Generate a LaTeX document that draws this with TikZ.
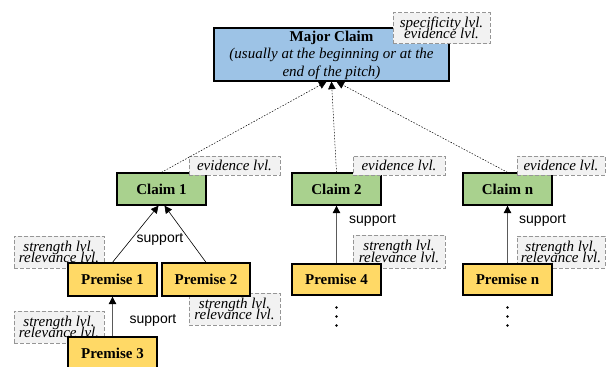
\documentclass[tikz,border=0pt]{standalone}
\usepackage{fontspec}
\setmainfont{Liberation Serif}
\newfontfamily\supfont{Liberation Sans}
\usetikzlibrary{arrows.meta}
\definecolor{mcblue}{RGB}{157,195,230}
\definecolor{claimgreen}{RGB}{169,209,142}
\definecolor{premyellow}{RGB}{255,217,102}
\definecolor{taggray}{RGB}{242,242,242}
\definecolor{tagline}{RGB}{150,150,150}
\definecolor{arrgray}{RGB}{90,90,90}
\newcommand\tagfont{\fontsize{15}{11.5}\selectfont\itshape\lineskiplimit=-20pt\relax}

\begin{document}
\begin{tikzpicture}[x=1pt, y=-1pt,
    box/.style={rectangle, draw=black, line width=1.3pt, inner sep=0pt,
      minimum width=89pt, minimum height=32pt, align=center,
      font=\fontsize{15}{17.5}\selectfont\bfseries},
    mcbox/.style={box, fill=mcblue, minimum width=235pt, minimum height=53pt,
      font=\fontsize{15}{17.5}\selectfont},
    claim/.style={box, fill=claimgreen},
    premise/.style={box, fill=premyellow, minimum height=33pt},
    tag/.style={rectangle, draw=tagline, line width=1pt, dash pattern=on 4pt off 2pt,
      fill=taggray, inner sep=0pt, minimum width=90pt, minimum height=32pt, align=center,
      font=\tagfont},
    sup/.style={font=\supfont\fontsize{14}{16}\selectfont, inner sep=0pt},
    arr/.style={-{Triangle[length=7.5pt, width=7.5pt, black]}, black, line width=0.6pt},
    grayarr/.style={arr, arrgray, line width=0.8pt},
    dotarr/.style={arr, dash pattern=on 1.5pt off 1.5pt, line width=0.5pt}]
  \useasboundingbox (0,0) rectangle (606,367);

  % premise tags (behind the boxes)
  \node[tag] (tp1) at (59,252) {strength lvl.\\relevance lvl.};
  \node[tag, minimum width=91pt] (tp2) at (234.5,309) {strength lvl.\\relevance lvl.};
  \node[tag] (tp3) at (59,327) {strength lvl.\\relevance lvl.};
  \node[tag, minimum width=92pt, minimum height=33pt] (tp4) at (399,251.5) {strength lvl.\\relevance lvl.};
  \node[tag, minimum width=88pt] (tpn) at (561,252) {strength lvl.\\relevance lvl.};

  % boxes
  \node[mcbox, text depth=1.5pt] (mc) at (331.5,54.5) {\textbf{Major Claim}\\
    \textit{(usually at the beginning or at the}\\ \textit{end of the pitch)}};
  \node[claim] (c1) at (161.5,189) {Claim 1};
  \node[claim] (c2) at (336.5,189) {Claim 2};
  \node[claim] (cn) at (507.5,189) {Claim n};
  \node[premise] (p1) at (112.5,279.5) {Premise 1};
  \node[premise, minimum width=88pt] (p2) at (206,279.5) {Premise 2};
  \node[premise] (p3) at (112.5,353.5) {Premise 3};
  \node[premise, minimum height=31pt] (p4) at (336.5,279.5) {Premise 4};
  \node[premise, minimum height=31pt] (pn) at (507.5,279.5) {Premise n};

  % claim tags
  \node[tag, minimum width=97pt, minimum height=31pt] (tmc) at (441.5,28) {specificity lvl.\\evidence lvl.};
  \node[tag, minimum width=91pt, minimum height=19pt] (tc1) at (234.5,165.5) {evidence lvl.};
  \node[tag, minimum width=92pt, minimum height=19pt] (tc2) at (399,165.5) {evidence lvl.};
  \node[tag, minimum width=88pt, minimum height=19pt] (tcn) at (561,165.5) {evidence lvl.};

  % connectors
  \draw[dotarr] (c1.north) -- ([xshift=-5pt]mc.south);
  \draw[dotarr] (c2.north) -- (mc.south);
  \draw[dotarr] (cn.north) -- ([xshift=5pt]mc.south);
  \draw[arr] (p1.north) -- ([xshift=-3pt]c1.south);
  \draw[arr] (p2.north) -- ([xshift=3pt]c1.south);
  \draw[grayarr] (p3) -- (p1);
  \draw[grayarr] (p4) -- (c2);
  \draw[grayarr] (pn) -- (cn);

  \node[sup] (s1) at (160,239) {support};
  \node[sup] (s3) at (153,320) {support};
  \node[sup, anchor=west] (s2) at (349,220) {support};
  \node[sup, anchor=west] (sn) at (519,220) {support};

  % more premises
  \foreach \dy in {28,37,46} {
    \fill ([yshift=-\dy pt]p4.center) circle (1.3pt);
    \fill ([yshift=-\dy pt]pn.center) circle (1.3pt);
  }
\end{tikzpicture}
\end{document}
